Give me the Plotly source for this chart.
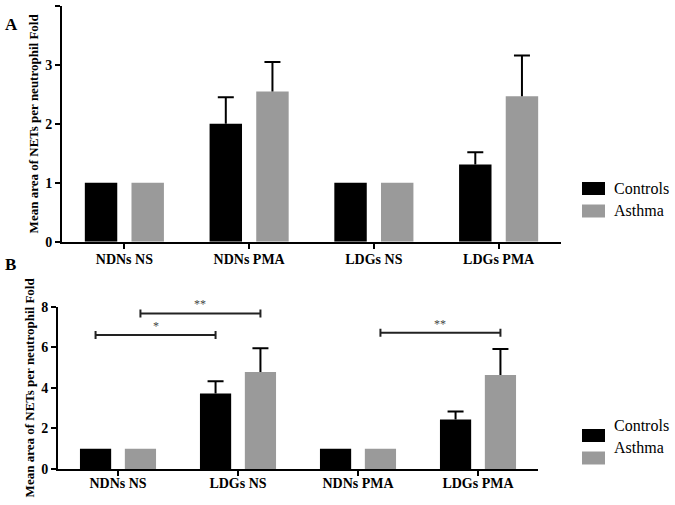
import plotly.graph_objects as go

# ---------------- data ----------------
cats_A = ["NDNs NS", "NDNs PMA", "LDGs NS", "LDGs PMA"]
A_controls = [1.0, 2.0, 1.0, 1.31]
A_controls_err = [0, 0.45, 0, 0.21]
A_asthma = [1.0, 2.55, 1.0, 2.47]
A_asthma_err = [0, 0.50, 0, 0.69]

cats_B = ["NDNs NS", "LDGs NS", "NDNs PMA", "LDGs PMA"]
B_controls = [1.0, 3.72, 1.0, 2.44]
B_controls_err = [0, 0.61, 0, 0.40]
B_asthma = [1.0, 4.78, 1.0, 4.63]
B_asthma_err = [0, 1.17, 0, 1.28]

# significance brackets in panel B: (cat_i, group, cat_j, group, height, label)
B_sig = [
    (0, "Controls", 1, "Controls", 6.6, "*"),
    (0, "Asthma", 1, "Asthma", 7.67, "**"),
    (2, "Asthma", 3, "Asthma", 6.71, "**"),
]

y_title = "Mean area of NETs per neutrophil Fold"
series_names = ["Controls", "Asthma"]
colors = {"Controls": "#000000", "Asthma": "#9a9a9a"}

# ---------------- layout geometry (pixels) ----------------
W, H = 675, 505
def px(x): return x / W
def py(y): return 1 - y / H

A_dom_x = [62, 561]; A_dom_y = [241.7, 6]
B_dom_x = [58, 538]; B_dom_y = [469, 306.7]
bar_w = 0.26
offset = {"Controls": -0.187, "Asthma": 0.187}
FONT = "Liberation Serif, Times New Roman, serif"

fig = go.Figure()

def add_panel(xa, ya, cats, ctrl, ctrl_e, ast, ast_e, dom_x):
    unit_px = (dom_x[1] - dom_x[0]) / len(cats)
    cap = 8 / unit_px
    for name, vals, errs in (("Controls", ctrl, ctrl_e), ("Asthma", ast, ast_e)):
        xs = [i + offset[name] for i in range(len(cats))]
        fig.add_trace(go.Bar(x=xs, y=vals, width=bar_w, marker_color=colors[name],
                             marker_line_width=0, showlegend=False, xaxis=xa, yaxis=ya,
                             hoverinfo="skip"))
        ex, ey = [], []
        for x, v, e in zip(xs, vals, errs):
            if e > 0:
                t = v + e
                ex += [x, x, None, x - cap, x + cap, None]
                ey += [v, t, None, t, t, None]
        if ex:
            fig.add_trace(go.Scatter(x=ex, y=ey, mode="lines", line=dict(color="black", width=2),
                                     showlegend=False, xaxis=xa, yaxis=ya, hoverinfo="skip",
                                     cliponaxis=False))

add_panel("x", "y", cats_A, A_controls, A_controls_err, A_asthma, A_asthma_err, A_dom_x)
add_panel("x2", "y2", cats_B, B_controls, B_controls_err, B_asthma, B_asthma_err, B_dom_x)

# significance brackets
B_unit_y = (B_dom_y[0] - B_dom_y[1]) / 8
tick_h = 4 / B_unit_y
for ci, gi, cj, gj, h, lab in B_sig:
    x0 = ci + offset[gi]; x1 = cj + offset[gj]
    fig.add_trace(go.Scatter(x=[x0, x1, None, x0, x0, None, x1, x1],
                             y=[h, h, None, h - tick_h, h + tick_h, None, h - tick_h, h + tick_h],
                             mode="lines", line=dict(color="#222222", width=2),
                             showlegend=False, xaxis="x2", yaxis="y2", hoverinfo="skip",
                             cliponaxis=False))
    fig.add_annotation(x=(x0 + x1) / 2, y=h, xref="x2", yref="y2", text=lab,
                       showarrow=False, yanchor="bottom", yshift=0,
                       font=dict(family=FONT, size=12, color="#444444"))

axis_common = dict(showline=True, linecolor="black", linewidth=2, ticks="outside",
                   ticklen=5, tickwidth=2, tickcolor="black", showgrid=False, zeroline=False,
                   automargin=False,
                   tickfont=dict(family=FONT, size=14, color="black", weight="bold"))
ytitle = dict(text=y_title, standoff=4,
              font=dict(family=FONT, size=13, color="black", weight="bold"))

fig.update_layout(
    width=W, height=H, autosize=False,
    margin=dict(l=0, r=0, t=0, b=0, pad=0, autoexpand=False),
    paper_bgcolor="white", plot_bgcolor="white",
    barmode="overlay",
    xaxis=dict(domain=[px(A_dom_x[0]), px(A_dom_x[1])], range=[-0.5, 3.5],
               tickvals=list(range(4)), ticktext=cats_A, anchor="y",
               ticklabelstandoff=-2, **axis_common),
    yaxis=dict(domain=[py(A_dom_y[0]), py(A_dom_y[1])], range=[0, 4],
               tickvals=[0, 1, 2, 3, 4], anchor="x", title=ytitle, **axis_common),
    xaxis2=dict(domain=[px(B_dom_x[0]), px(B_dom_x[1])], range=[-0.5, 3.5],
                tickvals=list(range(4)), ticktext=cats_B, anchor="y2",
                ticklabelstandoff=-5, **axis_common),
    yaxis2=dict(domain=[py(B_dom_y[0]), py(B_dom_y[1])], range=[0, 8],
                tickvals=[0, 2, 4, 6, 8], anchor="x2", title=ytitle, **axis_common),
)

# panel labels
for lab, yy in (("A", 13), ("B", 264)):
    fig.add_annotation(x=px(3), y=py(yy), xref="paper", yref="paper", text=lab,
                       showarrow=False, xanchor="left",
                       font=dict(family=FONT, size=17, color="black", weight="bold"))

# legends
for top in (182, 429):
    for k, name in enumerate(series_names):
        y0 = top + k * 22.5
        fig.add_shape(type="rect", xref="paper", yref="paper",
                      x0=px(582), x1=px(605), y0=py(y0), y1=py(y0 + 13),
                      fillcolor=colors[name], line_width=0)
        fig.add_annotation(x=px(612), y=py(y0 + 6.5), xref="paper", yref="paper",
                           text=name, showarrow=False, xanchor="left",
                           font=dict(family=FONT, size=16, color="black"))

fig.write_html("out.html", config={"displayModeBar": False},
               post_script="document.body.style.margin='0';")
